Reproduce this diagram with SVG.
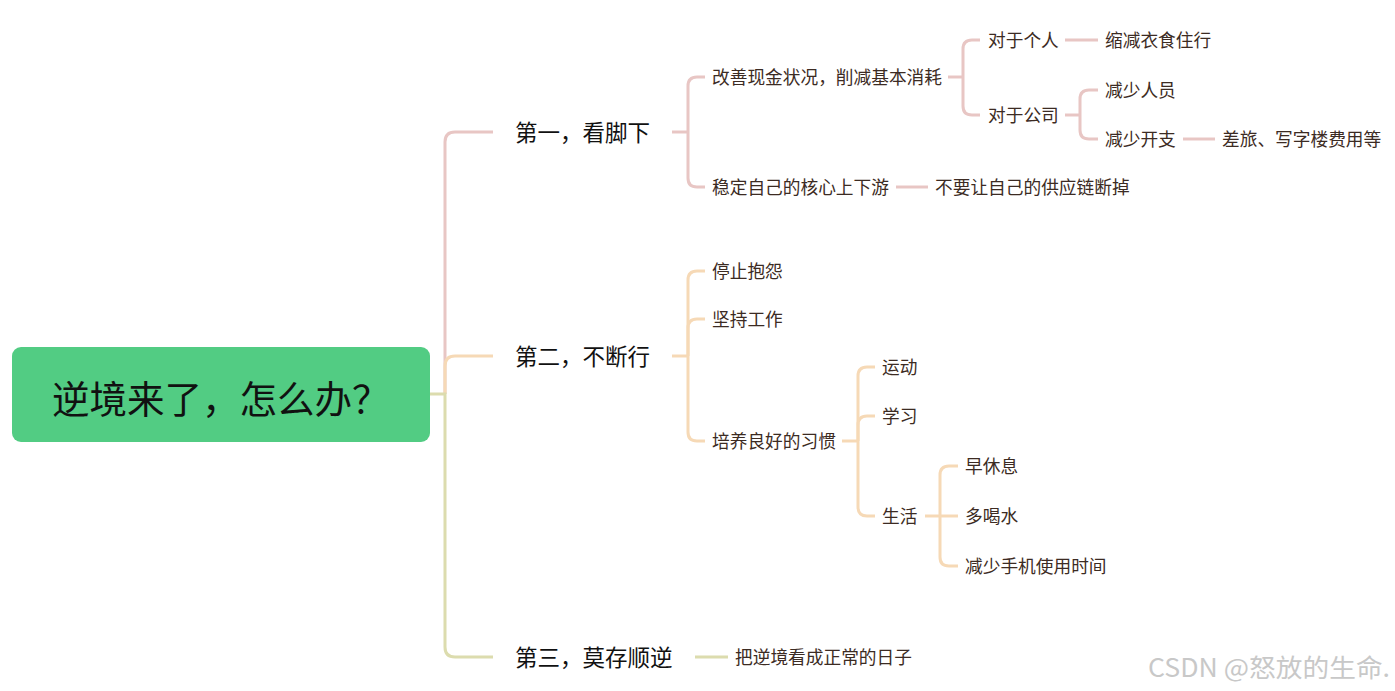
<svg xmlns="http://www.w3.org/2000/svg" width="1395" height="691" viewBox="0 0 1395 691">
<style>
text{font-family:"Microsoft YaHei","Noto Sans CJK SC","Noto Sans",sans-serif;}
.root{font-size:37.5px;fill:#111;}
.l1{font-size:22.5px;fill:#111;}
.l2{font-size:17.7px;fill:#3c2b23;}
.c{fill:none;stroke-width:3;stroke-linecap:butt;}
.p{stroke:#e8c6c4;}
.o{stroke:#f6d9b6;}
.g{stroke:#dcdcae;}
.wm{font-size:25px;fill:#c8c8c8;}
</style>
<rect width="1395" height="691" fill="#ffffff"/>
<g id="connectors">
  <path class="c p" d="M445,394 V142 Q445,132 455,132 H493" stroke-width="3.5"/>
  <path class="c o" d="M445,394 V366 Q445,356 455,356 H493" stroke-width="3.5"/>
  <path class="c g" d="M429,394 H445 V647 Q445,657 455,657 H493" stroke-width="3.5"/>
  <!-- branch 1 -->
  <path class="c p" d="M672,132 H688"/>
  <path class="c p" d="M688,132 V86 Q688,77 697,77 H705"/>
  <path class="c p" d="M688,132 V178 Q688,187 697,187 H705"/>
  <path class="c p" d="M948,77 H963"/>
  <path class="c p" d="M963,77 V49 Q963,40 972,40 H980"/>
  <path class="c p" d="M963,77 V106 Q963,115 972,115 H980"/>
  <path class="c p" d="M1065,40 H1098"/>
  <path class="c p" d="M1065,115 H1080"/>
  <path class="c p" d="M1080,115 V99 Q1080,90 1089,90 H1098"/>
  <path class="c p" d="M1080,115 V130 Q1080,139 1089,139 H1098"/>
  <path class="c p" d="M1183,139 H1215"/>
  <path class="c p" d="M896,187 H928"/>
  <!-- branch 2 -->
  <path class="c o" d="M672,356 H688"/>
  <path class="c o" d="M688,356 V280 Q688,271 697,271 H705"/>
  <path class="c o" d="M688,356 V328 Q688,319 697,319 H705"/>
  <path class="c o" d="M688,356 V432 Q688,441 697,441 H705"/>
  <path class="c o" d="M842,441 H858"/>
  <path class="c o" d="M858,441 V376 Q858,367 867,367 H875"/>
  <path class="c o" d="M858,441 V425 Q858,416 867,416 H875"/>
  <path class="c o" d="M858,441 V507 Q858,516 867,516 H875"/>
  <path class="c o" d="M925,516 H940"/>
  <path class="c o" d="M940,516 V475 Q940,466 949,466 H958"/>
  <path class="c o" d="M940,516 H958"/>
  <path class="c o" d="M940,516 V557 Q940,566 949,566 H958"/>
  <!-- branch 3 -->
  <path class="c g" d="M695,657 H728"/>
</g>
<g id="root">
  <rect x="12" y="347" width="418" height="95" rx="9" fill="#52cc83"/>
  <text class="root" x="52" y="412.5">逆境来了，怎么办？</text>
</g>
<g id="n1"><text class="l1" x="515" y="140.5">第一，看脚下</text></g>
<g id="n2"><text class="l1" x="515" y="364.5">第二，不断行</text></g>
<g id="n3"><text class="l1" x="515" y="665.5">第三，莫存顺逆</text></g>
<g id="n1-1"><text class="l2" x="712" y="83.7">改善现金状况，削减基本消耗</text></g>
<g id="n1-2"><text class="l2" x="712" y="193.7">稳定自己的核心上下游</text></g>
<g id="n1-1-1"><text class="l2" x="988" y="46.7">对于个人</text></g>
<g id="n1-1-2"><text class="l2" x="988" y="121.7">对于公司</text></g>
<g id="n1-1-1-1"><text class="l2" x="1105" y="46.7">缩减衣食住行</text></g>
<g id="n1-1-2-1"><text class="l2" x="1105" y="96.7">减少人员</text></g>
<g id="n1-1-2-2"><text class="l2" x="1105" y="145.7">减少开支</text></g>
<g id="n1-1-2-2-1"><text class="l2" x="1222" y="145.7">差旅、写字楼费用等</text></g>
<g id="n1-2-1"><text class="l2" x="935" y="193.7">不要让自己的供应链断掉</text></g>
<g id="n2-1"><text class="l2" x="712" y="277.7">停止抱怨</text></g>
<g id="n2-2"><text class="l2" x="712" y="325.7">坚持工作</text></g>
<g id="n2-3"><text class="l2" x="712" y="447.7">培养良好的习惯</text></g>
<g id="n2-3-1"><text class="l2" x="882" y="373.7">运动</text></g>
<g id="n2-3-2"><text class="l2" x="882" y="422.7">学习</text></g>
<g id="n2-3-3"><text class="l2" x="882" y="522.7">生活</text></g>
<g id="n2-3-3-1"><text class="l2" x="965" y="472.7">早休息</text></g>
<g id="n2-3-3-2"><text class="l2" x="965" y="522.7">多喝水</text></g>
<g id="n2-3-3-3"><text class="l2" x="965" y="572.7">减少手机使用时间</text></g>
<g id="n3-1"><text class="l2" x="735" y="663.7">把逆境看成正常的日子</text></g>
<text class="wm" x="1148" y="677" textLength="242" lengthAdjust="spacingAndGlyphs">CSDN @怒放的生命.</text>
</svg>
